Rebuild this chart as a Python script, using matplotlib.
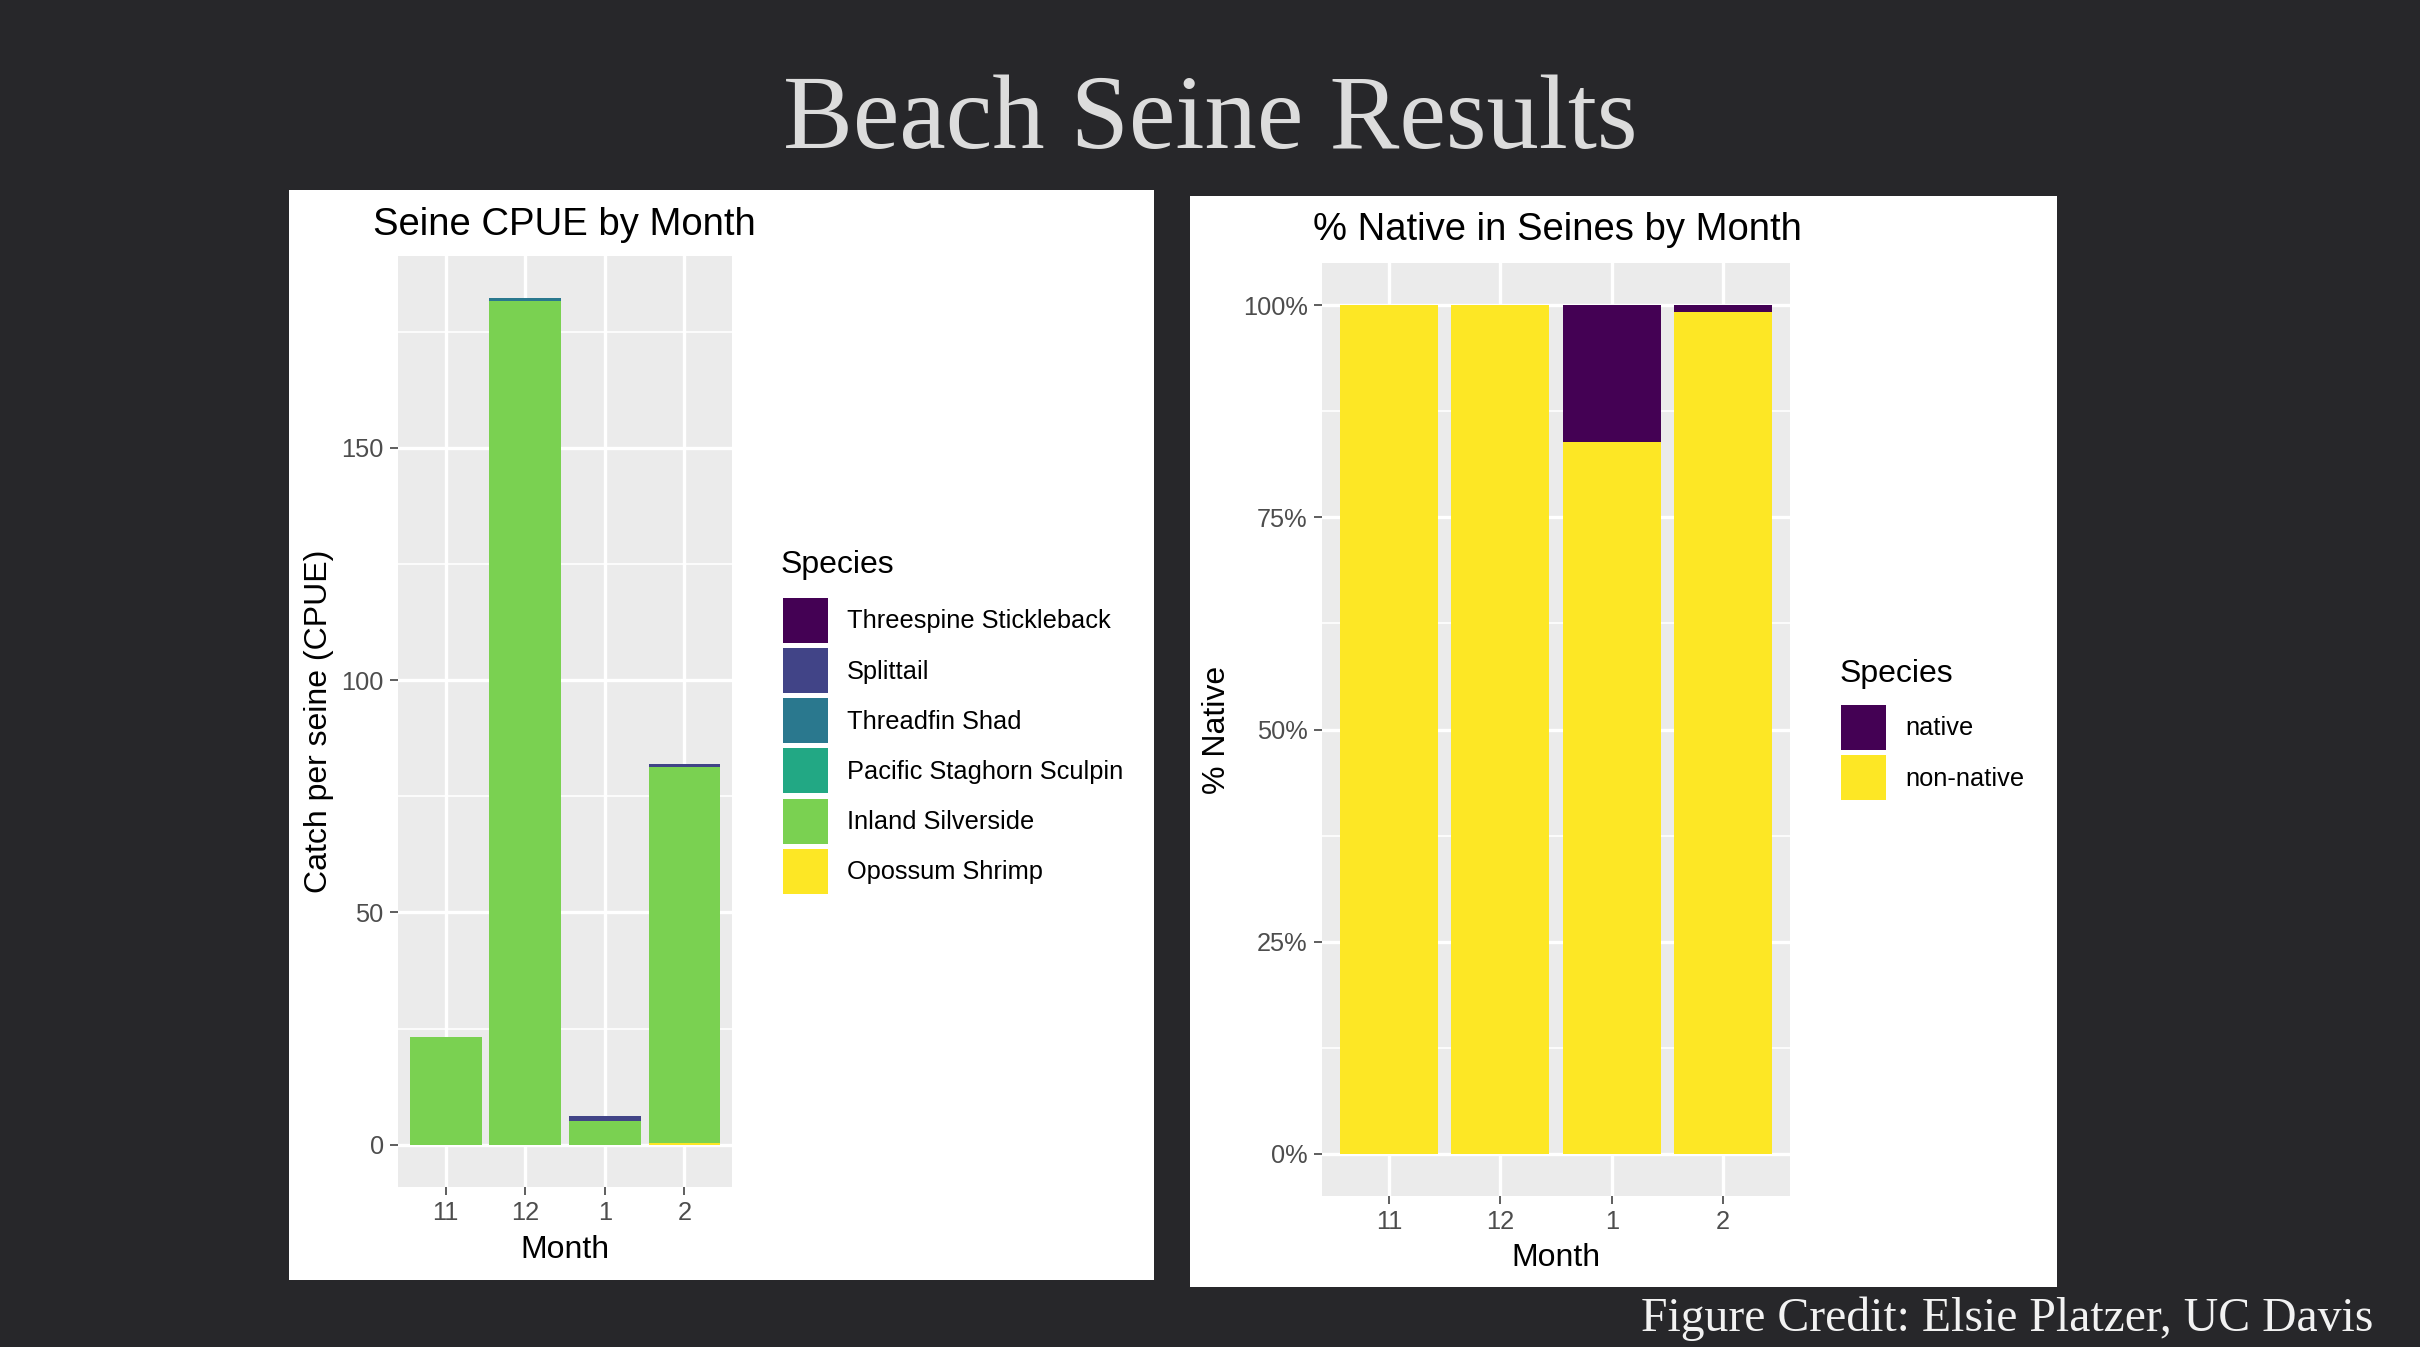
import matplotlib
matplotlib.use("Agg")
import matplotlib.pyplot as plt
from matplotlib.patches import Rectangle
import numpy as np

plt.rcParams["font.family"] = ["Liberation Sans", "DejaVu Sans"]

# --- data ---
months = ["11", "12", "1", "2"]

species = ["Threespine Stickleback", "Splittail", "Threadfin Shad",
           "Pacific Staghorn Sculpin", "Inland Silverside", "Opossum Shrimp"]
species_colors = ["#440154", "#414487", "#2A788E", "#22A884", "#7AD151", "#FDE725"]

# catch per seine, by species and month
stickleback = [0, 0, 0, 0]
splittail = [0, 0, 1.0, 0.66]
threadfin = [0, 0.6, 0, 0]
staghorn = [0, 0, 0, 0]
silverside = [23.2, 181.6, 5.2, 81.0]
opossum = [0, 0, 0, 0.3]
cpue = [stickleback, splittail, threadfin, staghorn, silverside, opossum]

# % native in seines
origin = ["native", "non-native"]
origin_colors = ["#440154", "#FDE725"]
native_pct = [0, 0, 16.1, 0.8]
nonnative_pct = [100, 100, 83.9, 99.2]

W, H = 2420, 1347
fig = plt.figure(figsize=(W / 100, H / 100), dpi=100, facecolor="#27272a")


def fx(px):
    return px / W


def fy(py):
    return 1 - py / H


def card(x0, y0, x1, y1):
    fig.patches.append(Rectangle((fx(x0), fy(y1)), fx(x1) - fx(x0), fy(y0) - fy(y1),
                                 transform=fig.transFigure, facecolor="white",
                                 edgecolor="none", zorder=-1))


def gg_axes(x0, y0, x1, y1):
    ax = fig.add_axes([fx(x0), fy(y1), fx(x1) - fx(x0), fy(y0) - fy(y1)])
    ax.set_facecolor("#EBEBEB")
    for s in ax.spines.values():
        s.set_visible(False)
    ax.set_axisbelow(True)
    ax.grid(which="major", color="white", lw=2.4)
    ax.grid(which="minor", axis="y", color="white", lw=1.2)
    ax.tick_params(which="major", length=5.7, width=1.1, color="#333333",
                   labelsize=18.3, labelcolor="#4D4D4D", pad=4.6)
    ax.tick_params(which="minor", length=0)
    return ax


legend_style = dict(loc="upper left", frameon=False, fontsize=18.3,
                    handlelength=1.77, handleheight=2.35, labelspacing=0.2,
                    handletextpad=0.76, borderpad=0, borderaxespad=0)

card(289, 190, 1154, 1280)
card(1190, 196, 2057, 1287)

x = np.arange(len(months))

# left: stacked CPUE
ax1 = gg_axes(398, 256, 732, 1187)
bottom = np.zeros(len(months))
bars = {}
for name, vals, col in zip(species[::-1], cpue[::-1], species_colors[::-1]):
    bars[name] = ax1.bar(x, vals, 0.9, bottom=bottom, color=col, label=name)
    bottom += np.array(vals)
ax1.set_xlim(-0.6, 3.6)
ax1.set_ylim(-9.1, 191.3)
ax1.set_xticks(x, months)
ax1.set_yticks([0, 50, 100, 150])
ax1.set_yticks([25, 75, 125, 175], minor=True)
ax1.set_xlabel("Month", fontsize=23, labelpad=7)
ax1.set_ylabel("Catch per seine (CPUE)", fontsize=23, labelpad=5)
fig.text(fx(373), fy(235), "Seine CPUE by Month", fontsize=27.5, va="baseline", ha="left")
fig.text(fx(781), fy(565), "Species", fontsize=23, va="center", ha="left")
fig.legend(handles=[bars[n] for n in species], labels=species,
           bbox_to_anchor=(fx(783), fy(598)), **legend_style)

# right: % native
ax2 = gg_axes(1322, 263, 1790, 1196)
b_non = ax2.bar(x, nonnative_pct, 0.88, color=origin_colors[1], label=origin[1])
b_nat = ax2.bar(x, native_pct, 0.88, bottom=nonnative_pct, color=origin_colors[0], label=origin[0])
ax2.set_xlim(-0.6, 3.6)
ax2.set_ylim(-5, 105)
ax2.set_xticks(x, months)
ax2.set_yticks([0, 25, 50, 75, 100], [f"{v}%" for v in [0, 25, 50, 75, 100]])
ax2.set_yticks([12.5, 37.5, 62.5, 87.5], minor=True)
ax2.set_xlabel("Month", fontsize=23, labelpad=6)
ax2.set_ylabel("% Native", fontsize=23, labelpad=8)
fig.text(fx(1313), fy(240), "% Native in Seines by Month", fontsize=27.5, va="baseline", ha="left")
fig.text(fx(1840), fy(674), "Species", fontsize=23, va="center", ha="left")
fig.legend(handles=[b_nat, b_non], labels=origin,
           bbox_to_anchor=(fx(1841), fy(705)), **legend_style)

# slide title and credit
fig.text(fx(1210), fy(148), "Beach Seine Results", ha="center", va="baseline",
         fontsize=75.3, family="Liberation Serif", color="#dcdcdc")
fig.text(fx(2373), fy(1331), "Figure Credit: Elsie Platzer, UC Davis", ha="right",
         va="baseline", fontsize=34.4, family="Liberation Serif", color="#f2f2f2")

fig.savefig("out.png", dpi=100, facecolor=fig.get_facecolor())
